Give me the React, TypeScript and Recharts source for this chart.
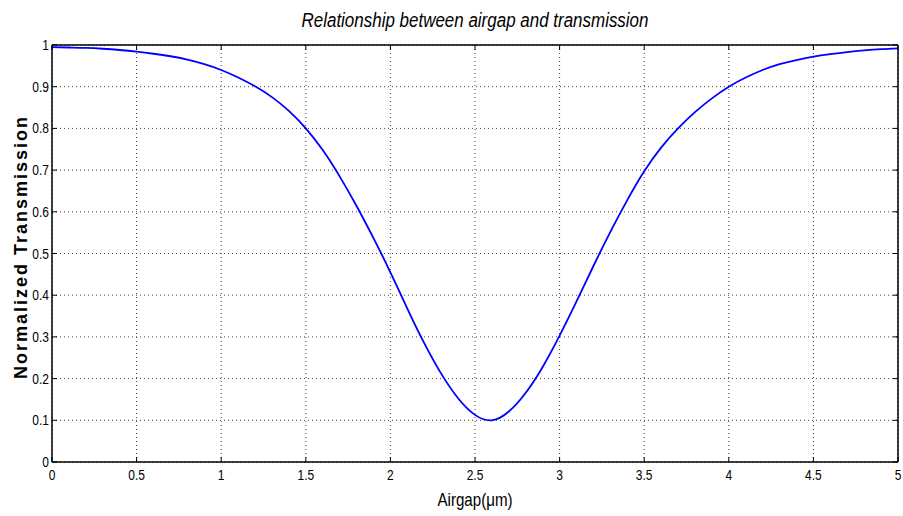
import { LineChart, Line, XAxis, YAxis, CartesianGrid, ReferenceLine } from "recharts";

// airgap in um
const airgap = [
  0, 0.1, 0.2, 0.3, 0.4, 0.5, 0.6, 0.7, 0.8, 0.9,
  1, 1.1, 1.2, 1.3, 1.4, 1.5, 1.6, 1.7, 1.8, 1.9,
  2, 2.1, 2.2, 2.3, 2.4, 2.5, 2.6, 2.7, 2.8, 2.9,
  3, 3.1, 3.2, 3.3, 3.4, 3.5, 3.6, 3.7, 3.8, 3.9,
  4, 4.1, 4.2, 4.3, 4.4, 4.5, 4.6, 4.7, 4.8, 4.9, 5,
];

// normalized transmission
const transmission = [
  0.995, 0.994, 0.993, 0.991, 0.988, 0.984, 0.979, 0.973, 0.965, 0.954,
  0.94, 0.922, 0.901, 0.875, 0.842, 0.8, 0.748, 0.685, 0.614, 0.537,
  0.455, 0.368, 0.285, 0.212, 0.153, 0.113, 0.1, 0.121, 0.166, 0.228,
  0.303, 0.385, 0.47, 0.552, 0.628, 0.697, 0.754, 0.8, 0.839, 0.872,
  0.9, 0.922, 0.94, 0.954, 0.964, 0.972, 0.978, 0.983, 0.987, 0.99, 0.992,
];

const xTicks = [0, 0.5, 1, 1.5, 2, 2.5, 3, 3.5, 4, 4.5, 5];
const yTicks = [0, 0.1, 0.2, 0.3, 0.4, 0.5, 0.6, 0.7, 0.8, 0.9, 1];

const data = airgap.map((x, i) => ({ x, t: transmission[i] }));

const W = 903;
const H = 516;
const LEFT = 52;
const RIGHT = 898;
const TOP = 45;
const BOTTOM = 462;
const TICK = 5;
const sans = "'Liberation Sans', Arial, sans-serif";

// no narrow font installed, so squeeze the glyphs horizontally
const Narrow = ({ x, y, anchor, size, children }: any) => (
  <g transform={`translate(${x} ${y}) scale(0.8 1)`}>
    <text x={0} y={0} textAnchor={anchor} fontSize={size} fontFamily={sans} fill="#000">
      {children}
    </text>
  </g>
);

// matlab style ticks: pointing inward, on both sides of the box
const XTick = (props: any) => {
  const x = props.x;
  return (
    <g>
      <line x1={x} y1={BOTTOM} x2={x} y2={BOTTOM - TICK} stroke="#000" />
      <line x1={x} y1={TOP} x2={x} y2={TOP + TICK} stroke="#000" />
      <Narrow x={x} y={BOTTOM + 18} anchor="middle" size={15}>
        {props.payload.value}
      </Narrow>
    </g>
  );
};

const YTick = (props: any) => {
  const y = props.y;
  return (
    <g>
      <line x1={LEFT} y1={y} x2={LEFT + TICK} y2={y} stroke="#000" />
      <line x1={RIGHT} y1={y} x2={RIGHT - TICK} y2={y} stroke="#000" />
      <Narrow x={LEFT - 3} y={y + 5} anchor="end" size={15}>
        {props.payload.value}
      </Narrow>
    </g>
  );
};

export default function App() {
  return (
    <div style={{ position: "absolute", left: 0, top: 0, width: W, height: H, background: "#fff" }}>
      <LineChart
        width={W}
        height={H}
        data={data}
        margin={{ top: TOP, right: W - RIGHT, bottom: 0, left: 0 }}
      >
        <CartesianGrid stroke="#444" strokeDasharray="1 3" />
        <XAxis
          dataKey="x"
          type="number"
          domain={[0, 5]}
          ticks={xTicks}
          height={H - BOTTOM}
          tickSize={0}
          tick={<XTick />}
          axisLine={{ stroke: "#000", strokeWidth: 1.5 }}
          tickLine={false}
          interval={0}
        />
        <YAxis
          type="number"
          domain={[0, 1]}
          ticks={yTicks}
          width={LEFT}
          tickSize={0}
          tick={<YTick />}
          axisLine={{ stroke: "#000", strokeWidth: 1.5 }}
          tickLine={false}
          interval={0}
        />
        <ReferenceLine y={1} stroke="#000" strokeWidth={1.5} />
        <ReferenceLine x={5} stroke="#000" strokeWidth={1.5} />
        <Line
          dataKey="t"
          type="natural"
          stroke="#0000ff"
          strokeWidth={1.8}
          dot={false}
          isAnimationActive={false}
        />
      </LineChart>
      <svg
        width={W}
        height={H}
        style={{ position: "absolute", left: 0, top: 0, pointerEvents: "none" }}
      >
        <text
          x={475}
          y={27}
          textAnchor="middle"
          fontSize={20}
          fontStyle="italic"
          fontFamily={sans}
          textLength={347}
          lengthAdjust="spacingAndGlyphs"
          fill="#000"
        >
          Relationship between airgap and transmission
        </text>
        <text
          x={475}
          y={506}
          textAnchor="middle"
          fontSize={19}
          fontFamily={sans}
          textLength={75}
          lengthAdjust="spacingAndGlyphs"
          fill="#000"
        >
          Airgap(μm)
        </text>
        <text
          x={0}
          y={0}
          transform="translate(27 247) rotate(-90)"
          textAnchor="middle"
          fontSize={18}
          fontWeight="bold"
          letterSpacing={2}
          fontFamily={sans}
          fill="#000"
        >
          Normalized Transmission
        </text>
      </svg>
    </div>
  );
}
